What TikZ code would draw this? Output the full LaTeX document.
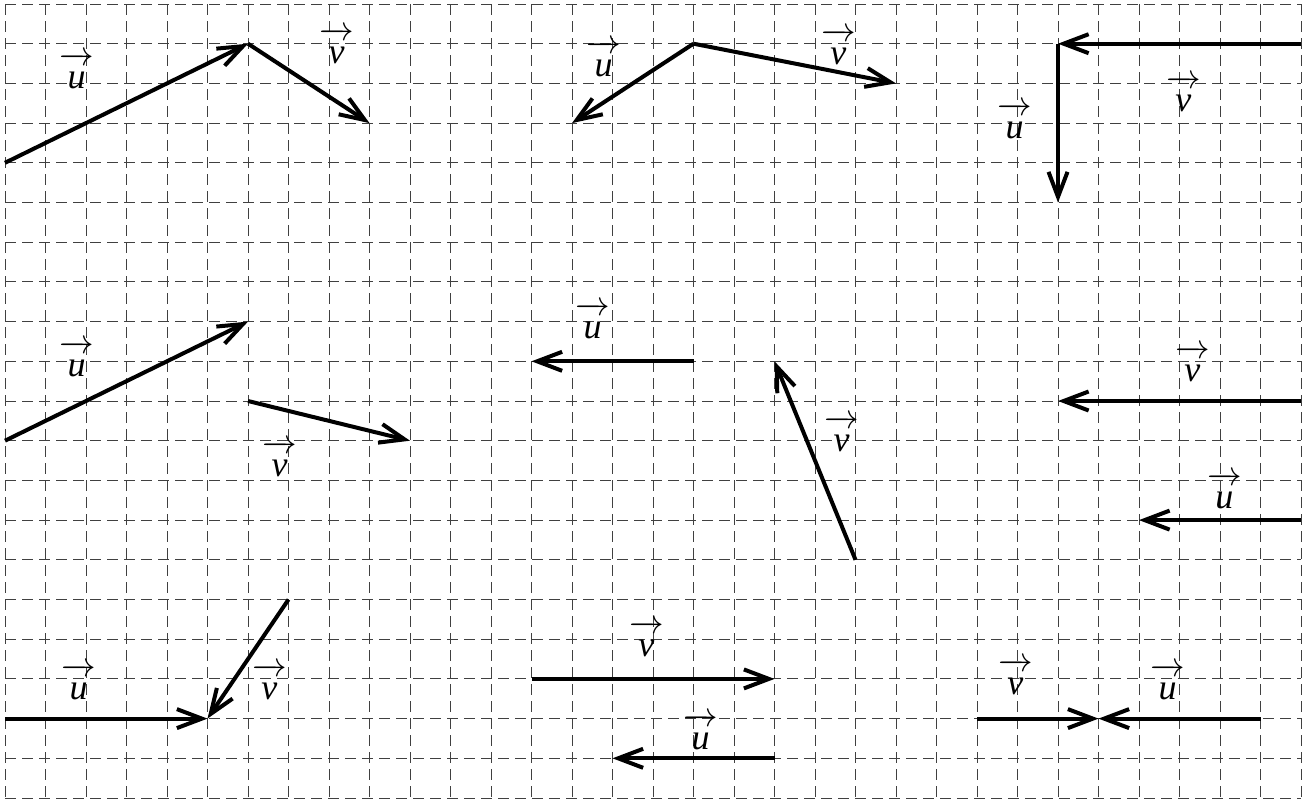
\documentclass[tikz,border=0pt]{standalone}
\usepackage{fontspec}
\setmainfont{Liberation Serif}
\usetikzlibrary{arrows.meta}
\newcommand{\vlab}[1]{$\overrightarrow{\hspace{3.5pt}\rule{0pt}{12.5pt}\textit{#1}\hspace{4pt}}$}

\begin{document}
\begin{tikzpicture}[x=20.25pt, y=-19.85pt,
  vec/.style={line width=2pt, -{Straight Barb[length=12.5pt, width=9.5pt]}},
  gridline/.style={black!75, line width=0.5pt, dash pattern=on 5.5pt off 3pt},
  lab/.style={anchor=base, inner sep=0pt, font=\fontsize{18pt}{21pt}\selectfont}]
\useasboundingbox (-0.1235,-0.1008) rectangle (32.074,20.05);
\foreach \i in {0,...,32} \draw[gridline] (\i,0) -- (\i,20);
\foreach \j in {0,...,20} \draw[gridline] (0,\j) -- (32,\j);

% top row
\coordinate (a1) at (0,4); \coordinate (o1) at (6,1); \coordinate (b1) at (9,3);
\draw[vec] (a1) -- (o1);
\draw[vec] (o1) -- (b1);
\node[lab] (u1) at (1.78,2.12) {\vlab{u}};
\node[lab] (v1) at (8.2,1.49) {\vlab{v}};

\coordinate (o2) at (17,1); \coordinate (a2) at (14,3); \coordinate (b2) at (22,2);
\draw[vec] (o2) -- (a2);
\draw[vec] (o2) -- (b2);
\node[lab] (u2) at (14.79,1.82) {\vlab{u}};
\node[lab] (v2) at (20.59,1.52) {\vlab{v}};

\coordinate (b3) at (32,1); \coordinate (o3) at (26,1); \coordinate (a3) at (26,5);
\draw[vec] (b3) -- (o3);
\draw[vec] (o3) -- (a3);
\node[lab] (u3) at (24.94,3.38) {\vlab{u}};
\node[lab] (v3) at (29.11,2.7) {\vlab{v}};

% middle row
\coordinate (a4) at (0,11); \coordinate (a4e) at (6,8);
\coordinate (b4) at (6,10); \coordinate (b4e) at (10,11);
\draw[vec] (a4) -- (a4e);
\draw[vec] (b4) -- (b4e);
\node[lab] (u4) at (1.78,9.38) {\vlab{u}};
\node[lab] (v4) at (6.79,11.89) {\vlab{v}};

\coordinate (a5) at (17,9); \coordinate (a5e) at (13,9);
\coordinate (b5) at (21,14); \coordinate (b5e) at (19,9);
\draw[vec] (a5) -- (a5e);
\draw[vec] (b5) -- (b5e);
\node[lab] (u5) at (14.52,8.42) {\vlab{u}};
\node[lab] (v5) at (20.67,11.26) {\vlab{v}};

\coordinate (b6) at (32,10); \coordinate (b6e) at (26,10);
\coordinate (a6) at (32,13); \coordinate (a6e) at (28,13);
\draw[vec] (b6) -- (b6e);
\draw[vec] (a6) -- (a6e);
\node[lab] (v6) at (29.33,9.5) {\vlab{v}};
\node[lab] (u6) at (30.12,12.7) {\vlab{u}};

% bottom row
\coordinate (a7) at (0,18); \coordinate (o7) at (5,18); \coordinate (b7) at (7,15);
\draw[vec] (a7) -- (o7);
\draw[vec] (b7) -- (o7);
\node[lab] (u7) at (1.83,17.51) {\vlab{u}};
\node[lab] (v7) at (6.54,17.51) {\vlab{v}};

\coordinate (b8) at (13,17); \coordinate (b8e) at (19,17);
\coordinate (a8) at (19,19); \coordinate (a8e) at (15,19);
\draw[vec] (b8) -- (b8e);
\draw[vec] (a8) -- (a8e);
\node[lab] (v8) at (15.85,16.43) {\vlab{v}};
\node[lab] (u8) at (17.19,18.77) {\vlab{u}};

\coordinate (b9) at (24,18); \coordinate (o9) at (27,18); \coordinate (a9) at (31,18);
\draw[vec] (b9) -- (o9);
\draw[vec] (a9) -- (o9);
\node[lab] (v9) at (24.96,17.39) {\vlab{v}};
\node[lab] (u9) at (28.72,17.51) {\vlab{u}};
\end{tikzpicture}
\end{document}
